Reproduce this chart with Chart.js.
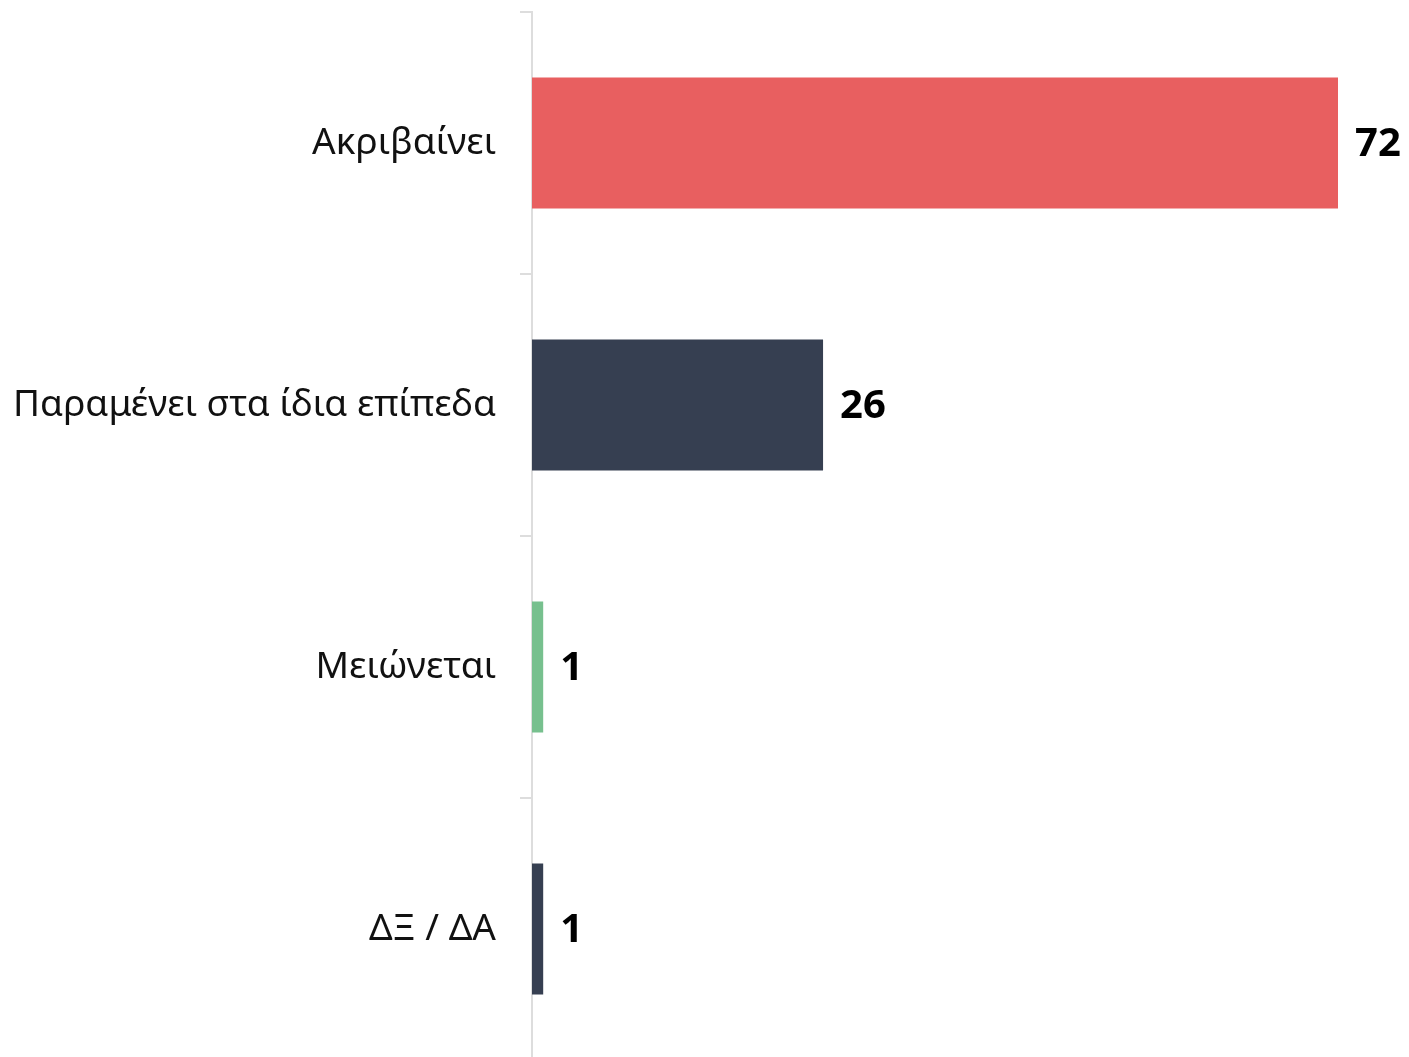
<!DOCTYPE html>
<html>
<head>
<meta charset="utf-8">
<script src="https://cdn.jsdelivr.net/npm/chart.js@4"></script>
<style>
  html, body { margin: 0; padding: 0; background: #fff; overflow: hidden; }
  #wrap { width: 1409px; height: 1060px; position: relative; }
</style>
</head>
<body>
<div id="wrap"><canvas id="chart"></canvas></div>
<script>
const categories = ['Ακριβαίνει', 'Παραμένει στα ίδια επίπεδα', 'Μειώνεται', 'ΔΞ / ΔΑ'];
const values = [72, 26, 1, 1];
const barColors = ['#e85f60', '#363f51', '#77c08e', '#363f51'];

// draws the numbers just right of each bar
const valueLabels = {
    id: 'valueLabels',
    afterDatasetsDraw(chart) {
        const ctx = chart.ctx;
        const meta = chart.getDatasetMeta(0);
        ctx.save();
        ctx.font = 'bold 40px "Noto Sans", sans-serif';
        ctx.fillStyle = '#000';
        ctx.textAlign = 'left';
        ctx.textBaseline = 'middle';
        meta.data.forEach((bar, i) => {
            ctx.fillText(values[i], bar.x + 17, bar.y + 2);
        });
        ctx.restore();
    }
};

const ctx = document.getElementById('chart').getContext('2d');
new Chart(ctx, {
    type: 'bar',
    data: {
        labels: categories,
        datasets: [{
            data: values,
            backgroundColor: barColors,
            borderWidth: 0,
            barPercentage: 0.5,
            categoryPercentage: 1
        }]
    },
    options: {
        indexAxis: 'y',
        responsive: true,
        maintainAspectRatio: false,
        animation: false,
        layout: {
            padding: { top: 12, right: 71, bottom: 0, left: 0 }
        },
        plugins: {
            legend: { display: false },
            tooltip: { enabled: false }
        },
        scales: {
            x: {
                display: false,
                min: 0,
                max: Math.max(...values)
            },
            y: {
                afterFit: scale => {
                    scale.width = 532;
                    scale.paddingTop = 0; // no extra room for half labels
                    scale.paddingBottom = 0;
                },
                border: { display: true, color: '#dddddd', width: 2 },
                grid: {
                    offset: true,
                    drawOnChartArea: false,
                    tickLength: 12,
                    color: '#dddddd',
                    lineWidth: 2
                },
                ticks: {
                    padding: 24,
                    color: '#111',
                    font: { family: '"Noto Sans", sans-serif', size: 37 }
                }
            }
        }
    },
    plugins: [valueLabels]
});
</script>
</body>
</html>
